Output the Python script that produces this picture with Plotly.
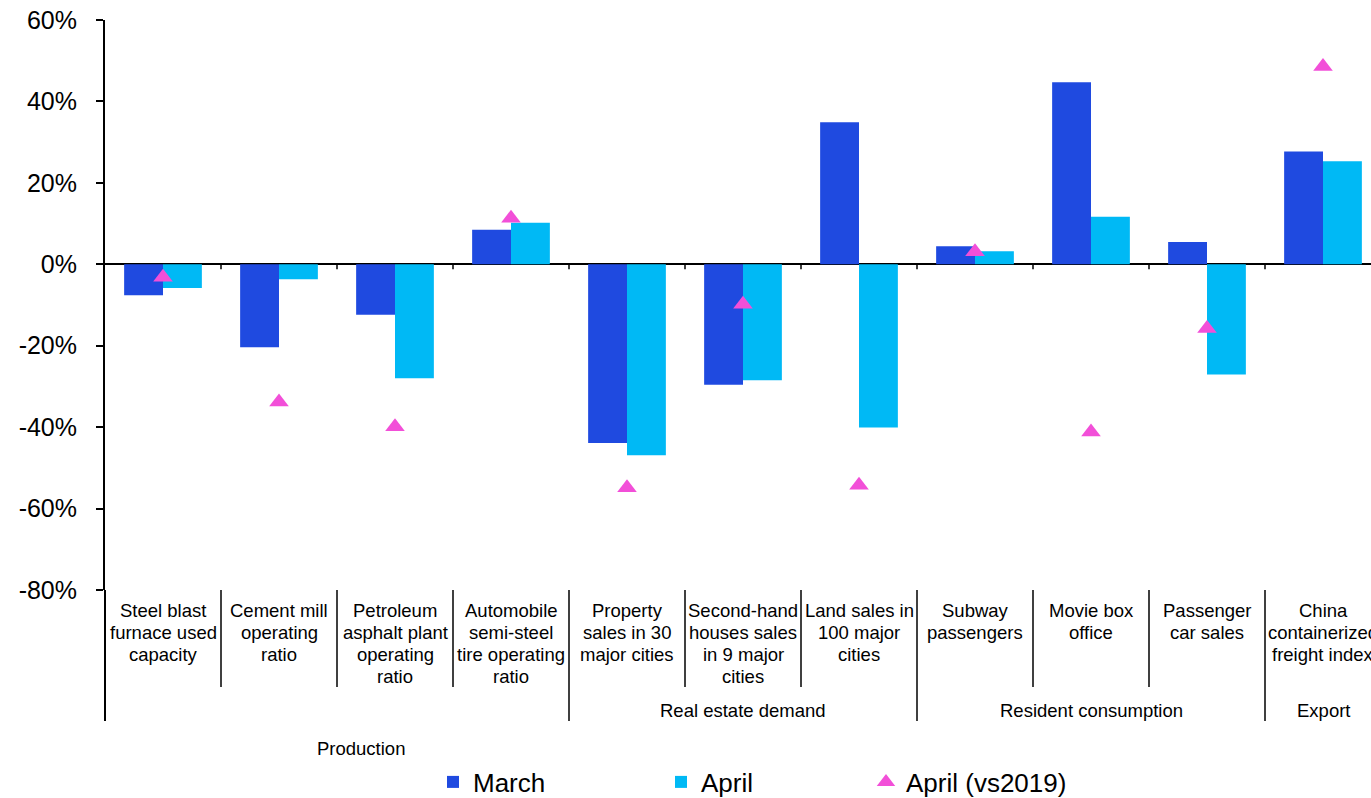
import plotly.graph_objects as go

# ---------------- data ----------------
categories = [
    "Steel blast<br>furnace used<br>capacity",
    "Cement mill<br>operating<br>ratio",
    "Petroleum<br>asphalt plant<br>operating<br>ratio",
    "Automobile<br>semi-steel<br>tire operating<br>ratio",
    "Property<br>sales in 30<br>major cities",
    "Second-hand<br>houses sales<br>in 9 major<br>cities",
    "Land sales in<br>100 major<br>cities",
    "Subway<br>passengers",
    "Movie box<br>office",
    "Passenger<br>car sales",
    "China<br>containerized<br>freight index",
]
march = [-7.6, -20.4, -12.4, 8.5, -43.9, -29.6, 34.9, 4.4, 44.7, 5.5, 27.7]
april = [-5.8, -3.7, -28.0, 10.2, -46.9, -28.5, -40.1, 3.2, 11.7, -27.1, 25.3]
april_vs2019 = [-3.2, -33.8, -39.9, 11.3, -54.9, -9.8, -54.3, 3.1, -41.2, -15.8, 48.6]
groups = ["Production", "Real estate demand", "Resident consumption", "Export"]
group_spans = [(0, 3), (4, 6), (7, 9), (10, 10)]
y_ticks = [-80, -60, -40, -20, 0, 20, 40, 60]
y_tick_labels = ["-80%", "-60%", "-40%", "-20%", "0%", "20%", "40%", "60%"]

# ---------------- style ----------------
FONT = "Liberation Sans, Arial, sans-serif"
C_MARCH = "#1F4AE0"
C_APRIL = "#00B9F5"
C_TRI = "#F24FD8"

W, H = 1371, 798
ML, MT, MB = 105, 20, 208
PH = H - MT - MB  # plot height in px
CAT_PX = 116.0
n = len(categories)
x_idx = list(range(n))
x_max = -0.5 + (W - ML) / CAT_PX


def py(pix):
    """pixel y (page) -> paper y"""
    return (H - MB - pix) / PH


def px(pix):
    return (pix - ML) / (W - ML)


fig = go.Figure()
fig.add_trace(go.Bar(x=x_idx, y=march, name="March", legend="legend",
                     marker=dict(color=C_MARCH, line=dict(width=0))))
fig.add_trace(go.Bar(x=x_idx, y=april, name="April", legend="legend2",
                     marker=dict(color=C_APRIL, line=dict(width=0))))
fig.add_trace(go.Scatter(x=x_idx, y=april_vs2019, name="April (vs2019)", mode="markers", legend="legend3",
                         marker=dict(symbol="triangle-up", size=17, color=C_TRI, line=dict(width=0)),
                         cliponaxis=False))

shapes = []
# ticks on zero line at category boundaries
for i in range(n - 1):
    b = i + 0.5
    shapes.append(dict(type="line", xref="x", yref="y", x0=b, x1=b, ysizemode="pixel", yanchor=0,
                       y0=0, y1=-5, line=dict(color="black", width=1.5)))
# dividers below the plot
group_bounds = [s[1] + 0.5 for s in group_spans[:-1]]
for i in range(n - 1):
    b = i + 0.5
    bottom = 721 if b in group_bounds else 687
    shapes.append(dict(type="line", xref="x", yref="paper", x0=b, x1=b, y0=0, y1=py(bottom),
                       line=dict(color="black", width=1.5)))
# left axis extension
shapes.append(dict(type="line", xref="paper", yref="paper", x0=0, x1=0, y0=0, y1=py(721),
                   line=dict(color="black", width=2)))

annotations = []
LINE0, LINESP = 611, 21.67
for i, lab in enumerate(categories):
    for k, line in enumerate(lab.split("<br>")):
        annotations.append(dict(text=line, x=i, xref="x", y=py(LINE0 + k * LINESP), yref="paper",
                                xanchor="center", yanchor="middle", showarrow=False,
                                font=dict(family=FONT, size=18.5, color="black")))
for g, (a, b) in zip(groups, group_spans):
    cx = (a + b) / 2
    ypix = 710
    xshift = 0
    if g == "Production":
        ypix = 748
        xshift = 24
    annotations.append(dict(text=g, x=cx, xref="x", y=py(ypix), yref="paper", xshift=xshift,
                            xanchor="center", yanchor="middle", showarrow=False,
                            font=dict(family=FONT, size=18.5, color="black")))


def leg(text_left):
    return dict(orientation="h", x=px(text_left - 40), xanchor="left", y=py(782), yanchor="middle",
                font=dict(family=FONT, size=26, color="black"), itemwidth=30,
                bgcolor="rgba(0,0,0,0)")


fig.update_layout(
    width=W, height=H,
    margin=dict(l=ML, r=0, t=MT, b=MB, pad=0, autoexpand=False),
    paper_bgcolor="white", plot_bgcolor="white",
    barmode="group", bargap=0.33, bargroupgap=0,
    font=dict(family=FONT, color="black"),
    xaxis=dict(range=[-0.5, x_max], showticklabels=False, showgrid=False, zeroline=False,
               showline=False, ticks="", fixedrange=True),
    yaxis=dict(range=[-80, 60], tickmode="array", tickvals=y_ticks, ticktext=y_tick_labels,
               showgrid=False,
               zeroline=True, zerolinecolor="black", zerolinewidth=2,
               showline=True, linecolor="black", linewidth=2,
               ticks="outside", ticklen=7, tickwidth=1.5, tickcolor="black",
               tickfont=dict(family=FONT, size=25, color="black"), ticklabelstandoff=14),
    showlegend=True,
    legend=leg(473),
    legend2=leg(701),
    legend3=leg(906),
    shapes=shapes,
    annotations=annotations,
)

fig.write_html("out.html")
